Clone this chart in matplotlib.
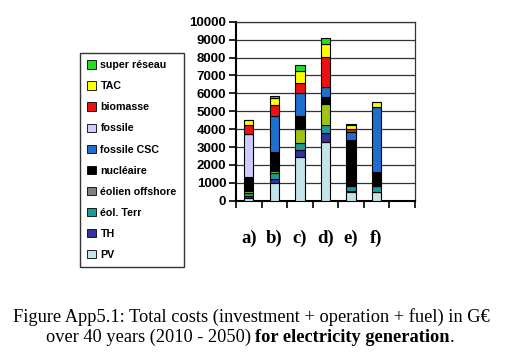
import numpy as np
import matplotlib
matplotlib.use("Agg")
import matplotlib.pyplot as plt
from matplotlib.patches import Patch

# scenario labels (7th slot is empty in the original chart)
scenarios = ["a)", "b)", "c)", "d)", "e)", "f)", ""]

# cost per technology in G€ (bottom to top)
pv        = [170, 1000, 2460, 3300, 500, 500, 0]
th        = [90, 240, 370, 470, 40, 0, 0]
eol_terr  = [150, 320, 410, 470, 280, 320, 0]
eol_off   = [130, 90, 760, 1170, 0, 0, 0]
nucleaire = [760, 1080, 730, 370, 2570, 800, 0]
fossile_csc = [0, 2010, 1270, 600, 450, 3590, 0]
fossile   = [2420, 0, 0, 0, 0, 0, 0]
biomasse  = [520, 630, 600, 1640, 150, 0, 0]
tac       = [260, 350, 670, 730, 240, 280, 0]
super_reseau = [0, 130, 300, 340, 70, 0, 0]

series = [
    ("PV", pv, "#c3e4e8"),
    ("TH", th, "#33339a"),
    ("éol. Terr", eol_terr, "#1f9a9a"),
    ("éolien offshore", eol_off, "#9cc414"),
    ("nucléaire", nucleaire, "#000000"),
    ("fossile", fossile, "#ccccff"),
    ("fossile CSC", fossile_csc, "#1f6fd0"),
    ("biomasse", biomasse, "#ee1111"),
    ("TAC", tac, "#ffff00"),
    ("super réseau", super_reseau, "#22dd22"),
]
legend_order = ["super réseau", "TAC", "biomasse", "fossile", "fossile CSC",
                "nucléaire", "éolien offshore", "éol. Terr", "TH", "PV"]
legend_colors = {"éolien offshore": "#808080"}

fig = plt.figure(figsize=(5.2, 3.52), dpi=100)
ax = fig.add_axes([0.4538, 0.4298, 0.344, 0.5085])

x = np.arange(len(scenarios))
bottom = np.zeros(len(scenarios))
colors = {}
for name, vals, col in series:
    vals = np.array(vals, dtype=float)
    ax.bar(x, vals, 0.37, bottom=bottom, color=col, edgecolor="black",
           linewidth=0.8, zorder=3)
    bottom += vals
    colors[name] = col

ax.set_ylim(0, 10000)
ax.set_xlim(-0.5, len(scenarios) - 0.5)
ax.set_yticks(np.arange(0, 10001, 1000))
ax.yaxis.grid(True, color="#333333", linewidth=0.9, zorder=0)
for lab in ax.get_yticklabels():
    lab.set_fontweight("bold")
    lab.set_fontfamily("Liberation Sans")
ax.tick_params(axis="y", labelsize=9.5, length=5, width=1.2, direction="out", pad=2)

ax.set_xticks(x)
ax.set_xticklabels(scenarios, fontfamily="Liberation Serif", fontweight="bold",
                   fontsize=13.5)
ax.tick_params(axis="x", which="major", length=0, pad=21)
ax.set_xticks(np.arange(-0.5, len(scenarios)), minor=True)
ax.tick_params(axis="x", which="minor", length=5, width=1.2, direction="out")

for s in ax.spines.values():
    s.set_color("#333333")
    s.set_linewidth(0.9)
ax.spines["left"].set_linewidth(1.5)
ax.spines["left"].set_color("black")
ax.spines["bottom"].set_linewidth(1.5)
ax.spines["bottom"].set_color("black")

handles = [Patch(facecolor=legend_colors.get(n, colors[n]), edgecolor="black",
                 linewidth=0.6, label=n) for n in legend_order]
leg = fig.legend(handles=handles, loc="upper left", bbox_to_anchor=(0.153, 0.850),
                 frameon=True, fancybox=False, edgecolor="black",
                 prop={"family": "Liberation Sans", "weight": "bold", "size": 7.7},
                 labelspacing=1.035, handlelength=0.85, handleheight=0.85,
                 handletextpad=0.4, borderpad=0.7, borderaxespad=0)
leg.get_frame().set_linewidth(1.0)

# caption with a bold part in the second line
cap_font = dict(family="Liberation Serif", size=13.2)
fig.text(0.484, 0.100, "Figure App5.1: Total costs (investment + operation + fuel) in G\u20ac",
         ha="center", va="center", **cap_font)
parts = [("over 40 years (2010 - 2050) ", "normal"),
         ("for electricity generation", "bold"),
         (".", "normal")]
renderer = fig.canvas.get_renderer()
texts = []
for s, w in parts:
    t = fig.text(0, 0.042, s, ha="left", va="center", weight=w, **cap_font)
    texts.append(t)
widths = [t.get_window_extent(renderer).width for t in texts]
total = sum(widths)
start = 0.481 * fig.bbox.width - total / 2
for t, w in zip(texts, widths):
    t.set_x(start / fig.bbox.width)
    start += w

fig.savefig("out.png", dpi=100)
